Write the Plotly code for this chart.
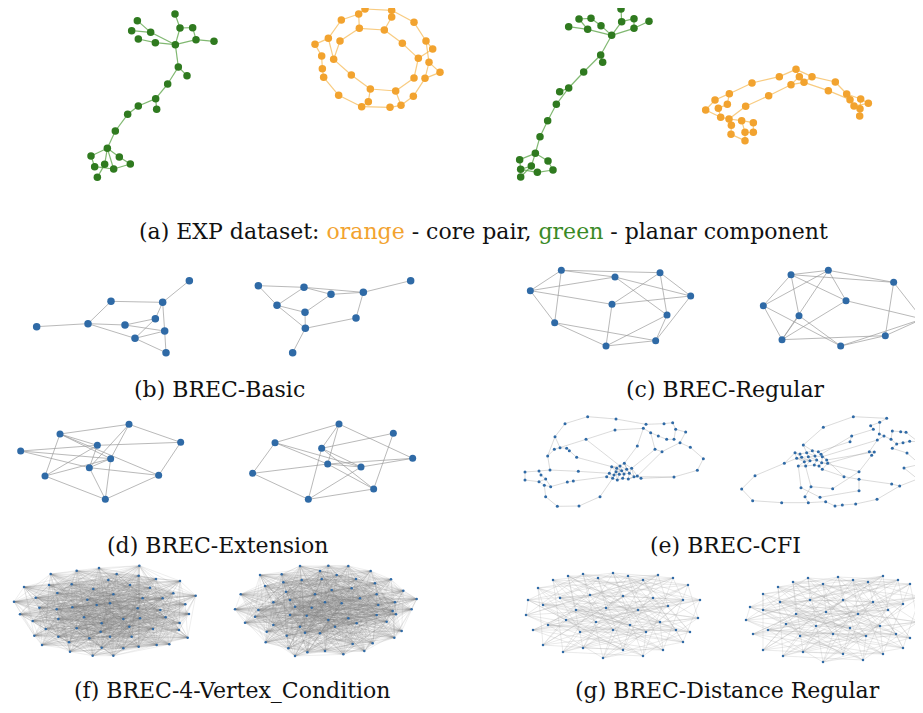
import plotly.graph_objects as go

# ---------------- data: node layouts (drawing units) and edge lists ----------------
# (a) EXP dataset
EXP_PLANAR_1_X = [315, 330, 368, 378, 432, 316, 202, 242, 185, 205, 256, 325, 351, 293, 257, 260, 205, 173, 136, 112, 63, 148, 74, 104, 131, 181, 82]
EXP_PLANAR_1_Y = [42, 84, 83, 119, 124, 134, 62, 97, 92, 117, 128, 201, 227, 252, 296, 328, 318, 343, 393, 445, 468, 471, 500, 493, 507, 492, 532]
EXP_PLANAR_1_E = [(0, 1), (1, 2), (2, 3), (3, 4), (3, 5), (1, 5), (6, 7), (8, 7), (7, 5), (9, 10), (10, 5), (5, 11), (11, 12), (11, 13),
                  (13, 14), (14, 15), (14, 16), (16, 17), (17, 18), (18, 19), (19, 20), (19, 21), (19, 23), (19, 24), (20, 22),
                  (22, 24), (23, 26), (21, 25), (24, 25)]

EXP_CORE_1_X = [225, 305, 206, 305, 154, 372, 208, 283, 115, 75, 150, 337, 408, 428, 95, 131, 385, 417, 97, 450, 184, 101, 372, 405, 241, 317, 146, 370, 235, 333, 215, 300]
EXP_CORE_1_Y = [27, 31, 42, 51, 60, 67, 85, 90, 115, 133, 123, 130, 123, 147, 168, 178, 175, 187, 206, 217, 225, 232, 234, 235, 267, 273, 286, 289, 305, 316, 320, 322]
EXP_CORE_1_E = [(0, 1), (1, 5), (5, 12), (12, 17), (17, 23), (23, 27), (27, 29), (29, 31), (31, 30), (30, 26), (26, 21), (21, 18),
                (18, 14), (14, 9), (9, 8), (8, 4), (4, 2), (2, 0), (6, 7), (7, 11), (11, 16), (16, 22), (22, 25), (25, 24),
                (24, 20), (20, 15), (15, 10), (10, 6), (2, 6), (1, 3), (3, 7), (12, 13), (13, 16), (17, 19), (19, 23), (8, 15),
                (28, 24), (28, 30), (25, 29)]

EXP_PLANAR_2_X = [363, 365, 402, 447, 402, 335, 237, 273, 303, 206, 263, 302, 308, 251, 206, 179, 169, 143, 120, 106, 59, 144, 62, 94, 112, 159, 62]
EXP_PLANAR_2_Y = [27, 65, 56, 64, 85, 106, 57, 55, 77, 80, 88, 165, 187, 216, 264, 275, 313, 362, 410, 460, 479, 483, 508, 498, 517, 510, 531]
EXP_PLANAR_2_E = [(0, 1), (1, 2), (2, 4), (4, 3), (4, 5), (1, 5), (6, 7), (7, 8), (8, 5), (6, 10), (9, 10), (10, 5), (5, 11), (11, 12),
                  (11, 13), (13, 14), (14, 15), (14, 16), (16, 17), (17, 18), (18, 19), (19, 20), (19, 21), (19, 23), (20, 22),
                  (22, 24), (23, 26), (21, 25), (24, 25), (22, 23)]

EXP_CORE_2_X = [318, 268, 328, 366, 436, 186, 303, 342, 415, 118, 236, 470, 75, 112, 167, 480, 512, 535, 492, 47, 85, 510, 92, 117, 155, 190, 509, 124, 165, 190, 123, 165]
EXP_CORE_2_Y = [28, 50, 50, 50, 66, 69, 74, 67, 92, 101, 107, 102, 120, 133, 139, 119, 117, 130, 138, 150, 145, 146, 172, 177, 182, 188, 168, 196, 217, 217, 223, 242]
EXP_CORE_2_E = [(5, 1), (1, 0), (0, 3), (3, 4), (4, 11), (11, 16), (16, 17), (17, 18), (9, 5), (12, 9), (19, 12), (19, 22), (22, 23),
                (23, 24), (24, 25), (25, 29), (29, 28), (28, 31), (31, 30), (30, 27), (27, 23), (10, 6), (6, 7), (7, 8), (8, 15),
                (15, 18), (18, 21), (21, 26), (10, 14), (14, 23), (13, 9), (13, 20), (20, 22), (2, 0), (2, 6), (7, 3), (11, 15),
                (16, 21), (24, 28)]

# (b) BREC-Basic
BASIC_1_X = [508, 273, 428, 406, 50, 204, 315, 434, 345, 438]
BASIC_1_Y = [47, 109, 112, 161, 185, 176, 180, 198, 220, 263]
BASIC_1_E = [(0, 2), (1, 2), (1, 5), (4, 5), (5, 6), (5, 8), (6, 3), (6, 7), (3, 2), (3, 8), (2, 7), (7, 8), (7, 9), (8, 9)]
BASIC_2_X = [542, 85, 222, 303, 400, 141, 225, 378, 226, 188]
BASIC_2_Y = [47, 62, 67, 88, 82, 121, 142, 159, 190, 263]
BASIC_2_E = [(1, 2), (1, 5), (2, 3), (2, 4), (3, 4), (3, 6), (4, 0), (4, 7), (5, 2), (5, 6), (5, 8), (6, 8), (7, 8), (8, 9)]

# (c) BREC-Regular
REGULAR_1_X = [124, 285, 420, 31, 512, 276, 441, 104, 407, 258]
REGULAR_1_Y = [31, 51, 38, 92, 108, 133, 165, 188, 242, 258]
REGULAR_1_E = [(0, 2), (0, 1), (0, 3), (0, 7), (3, 1), (3, 5), (3, 7), (1, 4), (1, 6), (2, 5), (2, 4), (2, 6), (4, 5), (4, 8),
               (5, 9), (6, 9), (6, 8), (7, 8), (7, 9), (8, 9)]
REGULAR_2_X = [138, 250, 446, 55, 303, 162, 532, 111, 421, 287]
REGULAR_2_Y = [44, 31, 67, 137, 122, 167, 177, 239, 227, 258]
REGULAR_2_E = [(0, 1), (0, 2), (0, 3), (0, 4), (0, 5), (1, 2), (1, 4), (1, 7), (1, 3), (2, 6), (2, 8), (3, 7), (3, 9), (4, 6),
               (4, 7), (5, 9), (5, 7), (6, 8), (6, 9), (7, 8), (8, 9)]

# (d) BREC-Extension
EXTENSION_1_X = [357, 150, 512, 262, 32, 302, 238, 105, 446, 286]
EXTENSION_1_Y = [28, 57, 82, 91, 108, 131, 158, 183, 181, 253]
EXTENSION_1_E = [(1, 0), (0, 2), (0, 6), (0, 5), (1, 3), (1, 5), (1, 7), (1, 8), (4, 3), (4, 5), (4, 6), (2, 8), (3, 2), (3, 6),
                 (5, 6), (5, 9), (6, 9), (6, 8), (7, 9), (7, 5), (8, 9), (3, 7)]
EXTENSION_2_X = [297, 460, 105, 245, 518, 263, 363, 38, 401, 205]
EXTENSION_2_Y = [12, 40, 68, 85, 115, 132, 141, 160, 207, 238]
EXTENSION_2_E = [(2, 0), (0, 3), (0, 5), (0, 4), (1, 3), (1, 8), (2, 6), (2, 5), (2, 7), (3, 8), (3, 9), (5, 4), (5, 6), (5, 7),
                 (5, 8), (6, 4), (6, 9), (7, 9), (8, 9), (3, 6)]

# (e) BREC-CFI
CFI_1_X = [233, 318, 165, 408, 462, 488, 315, 400, 135, 422, 497, 527, 228, 445, 470, 492, 510, 150, 133, 170, 178, 435, 456, 382,
           541, 113, 200, 580, 120, 45, 87, 205, 562, 93, 107, 492, 393, 45, 87, 172, 190, 103, 122, 107, 270, 142, 207,
           305, 320, 330, 343, 318, 335, 350, 365, 298, 312, 328, 342, 358, 372, 290, 308, 322, 338, 355, 382]
CFI_1_Y = [20, 27, 41, 43, 41, 38, 60, 55, 80, 68, 58, 66, 88, 78, 88, 88, 98, 113, 118, 115, 122, 118, 125, 108,
           112, 138, 142, 146, 180, 186, 183, 184, 181, 195, 207, 201, 205, 210, 215, 216, 213, 226, 230, 260, 260, 289, 288,
           170, 175, 168, 160, 185, 182, 178, 175, 190, 195, 193, 192, 190, 200, 200, 205, 210, 205, 207, 198]
CFI_1_E = [(0, 1), (0, 2), (2, 8), (8, 25), (8, 17), (1, 3), (3, 4), (4, 5), (5, 10), (10, 11), (11, 16), (6, 7), (6, 12),
           (12, 18), (7, 9), (9, 13), (13, 14), (14, 15), (15, 10), (16, 24), (24, 27), (27, 32), (32, 35), (35, 36), (36, 66),
           (21, 22), (21, 9), (22, 16), (23, 50), (23, 7), (21, 54), (17, 19), (19, 20), (20, 26), (26, 47), (18, 25),
           (25, 28), (28, 30), (30, 29), (29, 37), (37, 38), (38, 41), (41, 43), (43, 45), (45, 46), (46, 44), (44, 62),
           (28, 31), (31, 55), (33, 34), (30, 33), (34, 42), (42, 39), (39, 40), (40, 61), (34, 38), (41, 42), (12, 49),
           (47, 48), (47, 49), (47, 51), (47, 55), (48, 49), (48, 52), (48, 56), (49, 50), (49, 53), (49, 57), (50, 53),
           (50, 54), (51, 52), (51, 56), (51, 57), (52, 53), (52, 58), (53, 54), (53, 59), (54, 59), (54, 60), (55, 56),
           (55, 61), (56, 57), (56, 62), (57, 58), (57, 63), (58, 59), (58, 64), (59, 60), (59, 65), (60, 65), (60, 66),
           (61, 62), (62, 63), (63, 64), (64, 65), (65, 66), (47, 52), (49, 58), (51, 63), (55, 62), (50, 59), (48, 57),
           (53, 64), (54, 66), (60, 35), (22, 66)]

CFI_2_X = [355, 455, 265, 407, 434, 415, 472, 497, 513, 350, 433, 447, 427, 468, 549, 345, 485, 504, 524, 472, 403, 418, 516, 410,
           555, 507, 372, 327, 548, 60, 372, 470, 494, 20, 198, 293, 228, 372, 210, 255, 53, 140, 220, 272, 300, 322, 362, 426, 148,
           205, 180, 195, 215, 232, 250, 258, 185, 200, 220, 240, 262, 275, 208, 225, 245, 260, 190, 212, 238, 252, 278, 262]
CFI_2_Y = [20, 25, 52, 47, 37, 58, 63, 65, 67, 78, 72, 78, 90, 88, 95, 95, 102, 98, 94, 115, 125, 126, 129, 136,
           163, 174, 185, 200, 207, 197, 208, 222, 228, 237, 233, 236, 230, 242, 260, 262, 272, 278, 278, 275, 288, 285, 282, 268, 160,
           105, 128, 132, 128, 122, 125, 133, 145, 142, 140, 138, 140, 150, 155, 152, 150, 158, 168, 168, 165, 168, 160, 178]
CFI_2_E = [(0, 1), (0, 2), (2, 49), (1, 4), (4, 3), (3, 5), (4, 10), (10, 11), (6, 7), (7, 8), (8, 14), (14, 18), (18, 17),
           (17, 16), (16, 13), (13, 11), (6, 13), (5, 9), (9, 15), (12, 20), (20, 21), (21, 23), (19, 22), (22, 24), (24, 25),
           (25, 28), (28, 32), (32, 31), (31, 30), (30, 27), (27, 61), (26, 35), (35, 36), (36, 38), (38, 42), (42, 43),
           (43, 44), (44, 45), (45, 46), (46, 47), (47, 32), (37, 30), (37, 39), (39, 34), (34, 66), (29, 48), (48, 56),
           (33, 29), (33, 40), (40, 41), (41, 42), (61, 21), (70, 20), (60, 12), (55, 9), (54, 15), (71, 27), (65, 26),
           (19, 16), (12, 11), (23, 26), (36, 62),
           (49, 52), (49, 53), (50, 51), (50, 56), (51, 52), (51, 57), (52, 53), (52, 58), (53, 54), (53, 59), (54, 55),
           (54, 60), (55, 60), (55, 61), (56, 57), (56, 62), (57, 58), (57, 63), (58, 59), (58, 63), (59, 60), (59, 64),
           (60, 61), (60, 65), (61, 70), (62, 63), (62, 66), (63, 64), (63, 67), (64, 65), (64, 68), (65, 69), (65, 70),
           (66, 67), (67, 68), (68, 69), (69, 71), (70, 71), (50, 57), (52, 59), (56, 63), (58, 64), (48, 50)]

# (f) BREC-4-Vertex_Condition : node layout + circulant adjacency offsets
VERTEX4_1_X = [152, 230, 297, 418, 350, 416, 468, 540, 72, 147, 215, 280, 325, 390, 450, 520, 587,
               42, 107, 172, 262, 340, 428, 488, 556, 118, 170, 217, 290, 330, 413, 481, 567,
               60, 175, 252, 305, 370, 420, 497, 539, 98, 137, 230, 302, 388, 459, 537,
               103, 175, 268, 330, 395, 563, 126, 207, 305, 370, 416, 470, 508, 210, 278, 340]
VERTEX4_1_Y = [27, 17, 9, 2, 27, 32, 42, 48, 66, 60, 58, 72, 45, 60, 68, 85, 92,
               110, 98, 84, 104, 88, 100, 100, 118, 128, 133, 127, 120, 115, 130, 135, 147,
               148, 162, 157, 175, 162, 160, 157, 174, 168, 192, 190, 200, 185, 192, 195,
               212, 215, 220, 215, 215, 218, 240, 232, 248, 250, 245, 240, 238, 260, 272, 272]
VERTEX4_2_X = [780, 845, 900, 960, 985, 1045, 1112, 1173, 1210, 1250, 1235, 1188, 1205, 1183, 1118, 1093,
               1058, 1030, 975, 922, 885, 865, 797, 800, 735, 705, 722, 795, 850, 905, 965, 1010, 1068, 1125,
               1130, 1185, 1135, 1178, 1130, 1160, 765, 775, 820, 858, 870, 885, 945, 995, 1055, 1080, 1025,
               975, 935, 870, 920, 985, 1045, 1070, 1005, 960, 915, 860, 820, 900]
VERTEX4_2_Y = [30, 28, 3, 18, 2, 3, 18, 43, 77, 102, 133, 148, 198, 218, 235, 258,
               237, 268, 258, 262, 273, 250, 232, 200, 173, 133, 88, 63, 52, 45, 42, 30, 42, 55,
               88, 112, 120, 138, 150, 170, 155, 135, 112, 80, 105, 125, 88, 75, 70, 100, 115,
               112, 128, 150, 152, 165, 160, 175, 185, 205, 203, 212, 180, 185]
VERTEX4_OFFSETS = [1, 3, 4, 6, 9, 11, 13, 15, 17, 20, 22, 24, 27, 29, 31]

# (g) BREC-Distance Regular : node layout + circulant adjacency offsets
DISTREG_1_X = [10, 20, 35, 50, 65, 80, 95, 110, 125, 140, 155, 170, 182,
               8, 25, 42, 58, 72, 88, 105, 120, 135, 150, 165, 180,
               15, 30, 48, 62, 78, 95, 112, 128, 142, 158, 172,
               25, 45, 65, 85, 105, 125, 145, 165]
DISTREG_1_Y = [30, 18, 10, 6, 4, 8, 3, 6, 10, 5, 8, 15, 30,
               45, 35, 28, 40, 25, 38, 26, 40, 28, 36, 30, 48,
               60, 55, 50, 62, 52, 60, 55, 62, 52, 60, 62,
               75, 82, 78, 88, 80, 86, 80, 72]
DISTREG_2_X = [12, 25, 40, 55, 70, 85, 100, 115, 130, 145, 160, 172, 182,
               8, 25, 42, 58, 72, 88, 105, 120, 135, 150, 165, 180,
               15, 30, 48, 62, 78, 95, 112, 128, 142, 158, 172,
               25, 45, 65, 85, 105, 125, 145, 165]
DISTREG_2_Y = [35, 22, 15, 10, 6, 12, 5, 8, 10, 4, 8, 12, 25,
               48, 38, 30, 42, 28, 40, 28, 42, 30, 38, 32, 50,
               62, 58, 52, 64, 54, 62, 56, 64, 54, 62, 66,
               78, 84, 80, 90, 82, 88, 82, 76]
DISTREG_OFFSETS = [4, 9, 13, 17]

CAPTIONS = [
    "(a) EXP dataset: <span style='color:#f2a32f'>orange</span> - core pair, "
    "<span style='color:#3a8a26'>green</span> - planar component",
    "(b) BREC-Basic", "(c) BREC-Regular", "(d) BREC-Extension", "(e) BREC-CFI",
    "(f) BREC-4-Vertex_Condition", "(g) BREC-Distance Regular",
]


def circulant_edges(n, offsets):
    return [(i, (i + k) % n) for i in range(n) for k in offsets]


# ---------------- figure ----------------
PAGE_OFF = 8                      # default page margin around the plot div
W, H = 923 - PAGE_OFF, 713 - PAGE_OFF
fig = go.Figure()

GREEN_N, GREEN_E = "#2f7a1f", "rgba(85,160,65,0.75)"
ORANGE_N, ORANGE_E = "#f2a32f", "rgba(245,175,60,0.65)"
BLUE_N, GREY_E = "#2f6aa6", "rgba(150,150,150,0.75)"

# frame = (origin x px, origin y px, units per px); box = (x0, y0, w, h) page px
graphs = [
    (EXP_PLANAR_1_X, EXP_PLANAR_1_Y, EXP_PLANAR_1_E, (70, 0, 3), (70, 0, 170, 190), GREEN_N, GREEN_E, 7.5, 1.2),
    (EXP_CORE_1_X, EXP_CORE_1_Y, EXP_CORE_1_E, (290, 0, 3), (290, 0, 170, 120), ORANGE_N, ORANGE_E, 7.5, 1.2),
    (EXP_PLANAR_2_X, EXP_PLANAR_2_Y, EXP_PLANAR_2_E, (500, 0, 3), (500, 0, 170, 190), GREEN_N, GREEN_E, 7.5, 1.2),
    (EXP_CORE_2_X, EXP_CORE_2_Y, EXP_CORE_2_E, (690, 60, 3), (690, 60, 190, 90), ORANGE_N, ORANGE_E, 7.5, 1.2),
    (BASIC_1_X, BASIC_1_Y, BASIC_1_E, (20, 265, 3), (20, 265, 200, 100), BLUE_N, GREY_E, 7.5, 0.9),
    (BASIC_2_X, BASIC_2_Y, BASIC_2_E, (230, 265, 3), (230, 265, 200, 100), BLUE_N, GREY_E, 7.5, 0.9),
    (REGULAR_1_X, REGULAR_1_Y, REGULAR_1_E, (520, 260, 3), (520, 260, 180, 95), BLUE_N, GREY_E, 7, 0.9),
    (REGULAR_2_X, REGULAR_2_Y, REGULAR_2_E, (745, 260, 3), (745, 260, 178, 95), BLUE_N, GREY_E, 7, 0.9),
    (EXTENSION_1_X, EXTENSION_1_Y, EXTENSION_1_E, (10, 415, 3), (10, 415, 200, 90), BLUE_N, GREY_E, 7, 0.9),
    (EXTENSION_2_X, EXTENSION_2_Y, EXTENSION_2_E, (240, 420, 3), (240, 420, 180, 85), BLUE_N, GREY_E, 7, 0.9),
    (CFI_1_X, CFI_1_Y, CFI_1_E, (510, 410, 3), (510, 410, 200, 100), BLUE_N, "rgba(160,160,160,0.55)", 3, 0.7),
    (CFI_2_X, CFI_2_Y, CFI_2_E, (735, 410, 3), (735, 410, 188, 100), BLUE_N, "rgba(160,160,160,0.55)", 3, 0.7),
    (VERTEX4_1_X, VERTEX4_1_Y, circulant_edges(len(VERTEX4_1_X), VERTEX4_OFFSETS), (0, 565, 3), (0, 560, 225, 110),
     BLUE_N, "rgba(120,120,120,0.25)", 2.5, 0.5),
    (VERTEX4_2_X, VERTEX4_2_Y, circulant_edges(len(VERTEX4_2_X), VERTEX4_OFFSETS), (0, 565, 3), (225, 560, 235, 110),
     BLUE_N, "rgba(120,120,120,0.25)", 2.5, 0.5),
    (DISTREG_1_X, DISTREG_1_Y, circulant_edges(len(DISTREG_1_X), DISTREG_OFFSETS), (518, 570, 1), (510, 565, 215, 105),
     BLUE_N, "rgba(160,160,160,0.45)", 2.5, 0.5),
    (DISTREG_2_X, DISTREG_2_Y, circulant_edges(len(DISTREG_2_X), DISTREG_OFFSETS), (738, 572, 1), (728, 565, 195, 105),
     BLUE_N, "rgba(160,160,160,0.45)", 2.5, 0.5),
]

for k, (xs, ys, edges, frame, box, ncol, ecol, nsize, ewid) in enumerate(graphs, start=1):
    ox, oy, s = frame
    bx, by, bw, bh = box
    # box in figure px, clipped to the figure
    fx0, fx1 = max(0, bx - PAGE_OFF), min(W, bx + bw - PAGE_OFF)
    fy0, fy1 = max(0, by - PAGE_OFF), min(H, by + bh - PAGE_OFF)
    xa = "x" if k == 1 else f"x{k}"
    ya = "y" if k == 1 else f"y{k}"
    ex, ey = [], []
    for a, b in edges:
        ex += [xs[a], xs[b], None]
        ey += [ys[a], ys[b], None]
    fig.add_trace(go.Scatter(x=ex, y=ey, mode="lines", line=dict(color=ecol, width=ewid),
                             xaxis=xa, yaxis=ya, hoverinfo="skip", showlegend=False, cliponaxis=False))
    fig.add_trace(go.Scatter(x=xs, y=ys, mode="markers",
                             marker=dict(color=ncol, size=nsize, line=dict(width=0)),
                             xaxis=xa, yaxis=ya, showlegend=False, cliponaxis=False))
    xname = "xaxis" if k == 1 else f"xaxis{k}"
    yname = "yaxis" if k == 1 else f"yaxis{k}"
    fig.layout[xname] = dict(domain=[fx0 / W, fx1 / W],
                             range=[(fx0 + PAGE_OFF - ox) * s, (fx1 + PAGE_OFF - ox) * s],
                             visible=False, anchor=ya, fixedrange=True)
    fig.layout[yname] = dict(domain=[1 - fy1 / H, 1 - fy0 / H],
                             range=[(fy1 + PAGE_OFF - oy) * s, (fy0 + PAGE_OFF - oy) * s],
                             visible=False, anchor=xa, fixedrange=True)

# captions: (center x px, center y px) on the page
cap_pos = [(483, 231), (219, 389), (725, 389), (218, 545), (725, 545), (232, 690), (727, 690)]
for text, (cx, cy) in zip(CAPTIONS, cap_pos):
    fig.add_annotation(text=text, x=(cx - PAGE_OFF) / W, y=1 - (cy - PAGE_OFF) / H, xref="paper", yref="paper",
                       showarrow=False, xanchor="center", yanchor="middle",
                       font=dict(family="DejaVu Serif", size=22, color="#111111"))

fig.update_layout(width=W, height=H, margin=dict(l=0, r=0, t=0, b=0),
                  paper_bgcolor="white", plot_bgcolor="white")
fig.write_html("out.html")
